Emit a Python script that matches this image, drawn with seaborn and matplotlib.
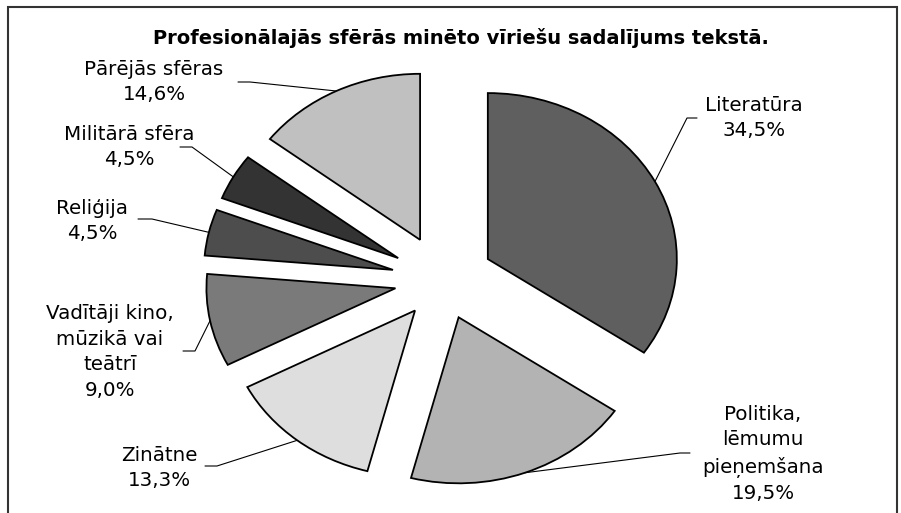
import matplotlib
matplotlib.use("Agg")
import matplotlib.pyplot as plt
import seaborn as sns
from matplotlib.patches import Rectangle
import numpy as np

# ---- data ----
categories = ["Literatūra", "Politika,\nlēmumu\npieņemšana", "Zinātne",
              "Vadītāji kino,\nmūzikā vai\nteātrī", "Reliģija",
              "Militārā sfēra", "Pārējās sfēras"]
values = [34.5, 19.5, 13.3, 9.0, 4.5, 4.5, 14.6]
value_labels = ["34,5%", "19,5%", "13,3%", "9,0%", "4,5%", "4,5%", "14,6%"]
colors = ["#5f5f5f", "#b3b3b3", "#dedede", "#7a7a7a", "#4d4d4d", "#333333", "#c0c0c0"]
title = "Profesionālajās sfērās minēto vīriešu sadalījums tekstā."

# ---- layout (pixels in the 901x513 canvas) ----
W, H = 901, 513
CX, CY, RX, RY = 442.7, 280.0, 189.0, 166.0
explode = [0.27, 0.24, 0.235, 0.255, 0.27, 0.27, 0.27]
label_pos = [(754, 118), (763, 454), (159, 468), (110, 352), (92, 221), (129, 147), (154, 82)]
line_start = [(697, 118), (690, 453), (205, 466), (183, 351), (138, 219), (180, 147), (238, 82)]
line_elbow = [(687, 118), (680, 453), (217, 466), (195, 351), (152, 219), (192, 147), (250, 82)]

def px2d(p):
    return ((p[0] - CX) / RX, (CY - p[1]) / RY)

sns.set_theme(style="white")
plt.rcParams["font.family"] = ["DejaVu Sans"]

fig = plt.figure(figsize=(W / 100, H / 100), dpi=100)
ax = fig.add_axes([0, 0, 1, 1])
wedges, _ = ax.pie(values, explode=explode, colors=colors,
                   startangle=90, counterclock=False,
                   wedgeprops=dict(edgecolor="black", linewidth=1.3))
ax.set_aspect("auto")
ax.set_xlim(-CX / RX, (W - CX) / RX)
ax.set_ylim((CY - H) / RY, CY / RY)
ax.axis("off")

for w, cat, vl, lp, ls, le in zip(wedges, categories, value_labels,
                                  label_pos, line_start, line_elbow):
    mid = np.deg2rad((w.theta1 + w.theta2) / 2)
    ax_pt = (w.center[0] + w.r * np.cos(mid), w.center[1] + w.r * np.sin(mid))
    s, e = px2d(ls), px2d(le)
    ax.plot([s[0], e[0], ax_pt[0]], [s[1], e[1], ax_pt[1]],
            color="black", lw=0.8, zorder=0.5)
    x, y = px2d(lp)
    ax.text(x, y, cat + "\n" + vl, ha="center", va="center",
            fontsize=14.3, linespacing=1.45, color="black")

fig.text(461 / W, 1 - 38 / H, title, ha="center", va="center",
         fontsize=14, fontweight="bold", color="black")

frame = Rectangle((8 / W, -0.05), (897 - 8) / W, 1.05 - 7 / H,
                  transform=fig.transFigure, fill=False,
                  edgecolor="#333333", linewidth=1.5)
fig.patches.append(frame)

fig.savefig("out.png", dpi=100)
